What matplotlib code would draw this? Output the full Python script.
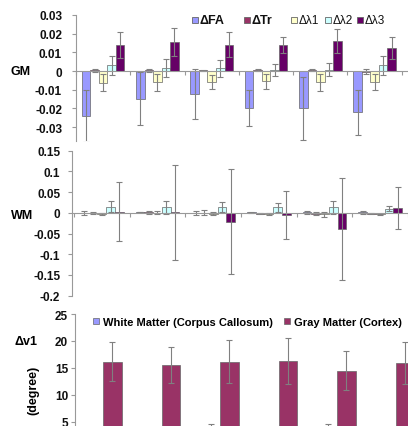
import numpy as np
import matplotlib.pyplot as plt
from matplotlib.patches import Rectangle

plt.rcParams['font.family'] = ['Liberation Sans', 'DejaVu Sans']
plt.rcParams['font.weight'] = 'bold'

W, H = 408, 427

# ---------------- data ----------------
n_groups = 6
series = ['\u0394FA', '\u0394Tr', '\u0394\u03bb1', '\u0394\u03bb2', '\u0394\u03bb3']
colors = ['#9999ff', '#993366', '#ffffcc', '#ccffff', '#660066']

# gray matter
gm_fa = [-0.0240, -0.0148, -0.0122, -0.0197, -0.0200, -0.0222]
gm_fa_err = [0.0140, 0.0142, 0.0133, 0.0098, 0.0170, 0.0121]
gm_tr = [0.0005, 0.0005, 0.0003, 0.0004, 0.0004, -0.0003]
gm_tr_err = [0.0008, 0.0008, 0.0005, 0.0005, 0.0005, 0.0012]
gm_l1 = [-0.0062, -0.0060, -0.0058, -0.0055, -0.0060, -0.0060]
gm_l1_err = [0.0045, 0.0045, 0.0037, 0.0040, 0.0045, 0.0043]
gm_l2 = [0.0030, 0.0016, 0.0015, 0.0007, 0.0008, 0.0030]
gm_l2_err = [0.0050, 0.0050, 0.0045, 0.0033, 0.0037, 0.0053]
gm_l3 = [0.0140, 0.0155, 0.0142, 0.0137, 0.0160, 0.0123]
gm_l3_err = [0.0068, 0.0073, 0.0066, 0.0043, 0.0066, 0.0058]

# white matter
wm_fa = [0.000, 0.002, 0.000, 0.001, 0.001, 0.001]
wm_fa_err = [0.005, 0.001, 0.005, 0.002, 0.003, 0.004]
wm_tr = [-0.001, 0.001, 0.000, -0.002, -0.002, -0.002]
wm_tr_err = [0.002, 0.004, 0.006, 0.002, 0.004, 0.002]
wm_l1 = [-0.003, 0.000, -0.002, -0.003, -0.004, -0.004]
wm_l1_err = [0.002, 0.004, 0.003, 0.002, 0.005, 0.002]
wm_l2 = [0.015, 0.013, 0.015, 0.013, 0.013, 0.010]
wm_l2_err = [0.013, 0.015, 0.012, 0.010, 0.016, 0.006]
wm_l3 = [0.003, 0.001, -0.021, -0.005, -0.039, 0.012]
wm_l3_err = [0.071, 0.115, 0.126, 0.057, 0.124, 0.051]

# delta v1 (degree)
v1_labels = ['White Matter (Corpus Callosum)', 'Gray Matter (Cortex)']
v1_wm = [1.5, 1.5, 2.0, 1.5, 2.0, 1.5]
v1_wm_err = [1.5, 1.5, 2.6, 1.5, 2.6, 1.5]
v1_gm = [16.2, 15.6, 16.2, 16.3, 14.5, 15.9]
v1_gm_err = [3.6, 3.3, 3.9, 4.2, 3.6, 3.9]

gm_vals = [gm_fa, gm_tr, gm_l1, gm_l2, gm_l3]
gm_errs = [gm_fa_err, gm_tr_err, gm_l1_err, gm_l2_err, gm_l3_err]
wm_vals = [wm_fa, wm_tr, wm_l1, wm_l2, wm_l3]
wm_errs = [wm_fa_err, wm_tr_err, wm_l1_err, wm_l2_err, wm_l3_err]


def rect(left, top, right, bottom):
    # pixel box -> figure fraction
    return [left / W, 1 - bottom / H, (right - left) / W, (bottom - top) / H]


def style(ax, pad, zero_axis=True):
    for s in ['top', 'right']:
        ax.spines[s].set_visible(False)
    ax.spines['left'].set_color('#999999')
    ax.spines['bottom'].set_color('#999999')
    ax.tick_params(axis='y', colors='#999999', length=3, width=0.8, labelsize=8.5,
                   labelcolor='#111111', pad=pad)
    for t in ax.get_yticklabels():
        t.set_fontweight('bold')
    if zero_axis:
        ax.spines['bottom'].set_position(('data', 0))
        ax.set_xticks(np.arange(-0.5, n_groups, 1.0))
        ax.tick_params(axis='x', colors='#999999', length=3, width=0.8, labelbottom=False)
    else:
        ax.set_xticks([])


fig = plt.figure(figsize=(W / 100, H / 100), dpi=100)
x = np.arange(n_groups)
w = 0.157
ekw = dict(ecolor='#808080', elinewidth=0.8, capsize=2, capthick=0.8)

# ---- GM ----
ax1 = fig.add_axes(rect(76, 16, 408, 141.7))
for i in range(5):
    ax1.bar(x + (i - 2) * w, gm_vals[i], w, yerr=gm_errs[i], color=colors[i],
            edgecolor='#666666', linewidth=0.5, error_kw=ekw)
ax1.set_ylim(-0.0373, 0.03)
ax1.set_xlim(-0.477, 5.615)
ax1.set_yticks([-0.03, -0.02, -0.01, 0, 0.01, 0.02, 0.03])
ax1.set_yticklabels(['-0.03', '-0.02', '-0.01', '0', '0.01', '0.02', '0.03'])
style(ax1, pad=7)

# legend of the GM/WM panels, placed entry by entry
leg_x = [192, 244, 291, 325, 357]
for i in range(5):
    fig.patches.append(Rectangle((leg_x[i] / W, 1 - 23.5 / H), 6 / W, 6 / H,
                                 transform=fig.transFigure, facecolor=colors[i],
                                 edgecolor='#666666', linewidth=0.6))
    fig.text((leg_x[i] + 7.5) / W, 1 - 20.5 / H, series[i], fontsize=9 if i < 2 else 8.5,
             fontweight='bold' if i < 2 else 'normal', ha='left', va='center', color='#111111')

# ---- WM ----
ax2 = fig.add_axes(rect(72, 151.7, 408, 296.7))
for i in range(5):
    ax2.bar(x + (i - 2) * w, wm_vals[i], w, yerr=wm_errs[i], color=colors[i],
            edgecolor='#666666', linewidth=0.5, error_kw=ekw)
ax2.set_ylim(-0.2, 0.15)
ax2.set_xlim(-0.535, 5.5)
ax2.set_yticks([-0.2, -0.15, -0.1, -0.05, 0, 0.05, 0.1, 0.15])
ax2.set_yticklabels(['-0.2', '-0.15', '-0.1', '-0.05', '0', '0.05', '0.1', '0.15'])
style(ax2, pad=5.5)

# ---- delta v1 ----
ax3 = fig.add_axes(rect(75, 315, 408, 450))
w3 = 0.316
ax3.bar(x - w3 / 2, v1_wm, w3, yerr=v1_wm_err, color='#9999ff', edgecolor='#666666',
        linewidth=0.5, label=v1_labels[0], error_kw=ekw)
ax3.bar(x + w3 / 2, v1_gm, w3, yerr=v1_gm_err, color='#993366', edgecolor='#666666',
        linewidth=0.5, label=v1_labels[1], error_kw=ekw)
ax3.set_ylim(0, 25)
ax3.set_xlim(-0.479, 5.21)
ax3.set_yticks([5, 10, 15, 20, 25])
style(ax3, pad=2, zero_axis=False)
ax3.legend(loc='upper left', bbox_to_anchor=(93 / W, 1 - 318 / H), bbox_transform=fig.transFigure,
           ncol=2, frameon=False, fontsize=8, handlelength=0.55, handleheight=0.55,
           handletextpad=0.35, columnspacing=1.0, borderaxespad=0, borderpad=0)

# side labels
fig.text(21 / W, 1 - 72 / H, 'GM', fontsize=9, fontweight='bold', ha='center', va='center')
fig.text(22 / W, 1 - 216 / H, 'WM', fontsize=9, fontweight='bold', ha='center', va='center')
fig.text(26 / W, 1 - 342 / H, '\u0394v1', fontsize=9, fontweight='bold', ha='center', va='center')
fig.text(33 / W, 1 - 390 / H, '(degree)', fontsize=9, fontweight='bold', ha='center', va='center',
         rotation=90)

fig.savefig('out.png', dpi=100)
